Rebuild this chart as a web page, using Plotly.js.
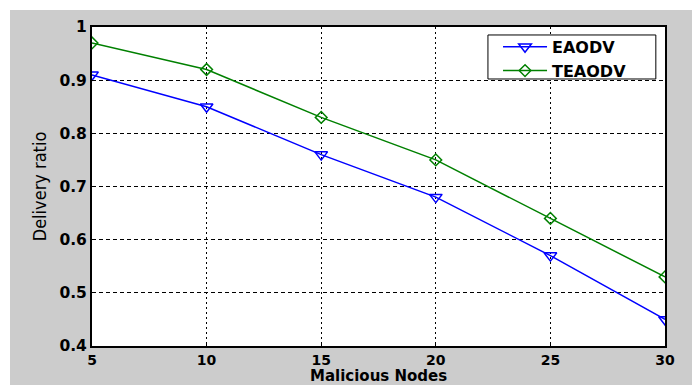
<!DOCTYPE html>
<html><head><meta charset="utf-8">
<script src="https://cdn.plot.ly/plotly-3.0.1.min.js"></script>
<style>html,body{margin:0;padding:0;background:#fff;}#plot{position:absolute;left:10px;top:10px;width:682px;height:375px;}</style>
</head><body><div id="plot"></div>
<script>
const maliciousNodes = [5, 10, 15, 20, 25, 30];
const eaodv = [0.91, 0.85, 0.76, 0.68, 0.57, 0.45];
const teaodv = [0.97, 0.92, 0.83, 0.75, 0.64, 0.53];
const xTicks = [5, 10, 15, 20, 25, 30];
const yTicks = [0.4, 0.5, 0.6, 0.7, 0.8, 0.9, 1];
const yTickText = ['0.4', '0.5', '0.6', '0.7', '0.8', '0.9', '1'];
const xTitle = 'Malicious Nodes';
const yTitle = 'Delivery ratio';

const yTickFont = {family: 'DejaVu Sans, Arial', size: 15.5, color: '#000', weight: 'bold'};
const xTickFont = {family: 'DejaVu Sans, Arial', size: 14, color: '#000', weight: 'bold'};
const legendFont = {family: 'DejaVu Sans, Arial', size: 16, color: '#000', weight: 'bold'};
const traces = [
  {x: maliciousNodes, y: eaodv, name: 'EAODV', mode: 'lines+markers',
   line: {color: '#0000ff', width: 1.5},
   marker: {symbol: 'triangle-down-open', size: 11, color: '#0000ff', line: {width: 1.5}}},
  {x: maliciousNodes, y: teaodv, name: 'TEAODV', mode: 'lines+markers',
   line: {color: '#008000', width: 1.5},
   marker: {symbol: 'diamond-open', size: 9, color: '#008000', line: {width: 1.5}}}
];
const layout = {
  width: 682, height: 375,
  paper_bgcolor: '#cccccc', plot_bgcolor: '#ffffff',
  margin: {l: 82, r: 27, t: 17, b: 39},
  showlegend: true,
  legend: {x: 0.7086, y: 0.991, xanchor: 'left', yanchor: 'top',
    bgcolor: 'rgba(0,0,0,0)', borderwidth: 0, font: legendFont, itemwidth: 44, tracegroupgap: 0},
  shapes: [{type: 'rect', xref: 'paper', yref: 'paper', x0: 0.691, x1: 0.984, y0: 0.837, y1: 0.975,
    fillcolor: '#ffffff', line: {color: '#000', width: 1}, layer: 'above'}],
  annotations: [{text: xTitle, xref: 'paper', yref: 'paper', x: 0.5, y: 0, xanchor: 'center', yanchor: 'top',
    yshift: -21, showarrow: false, borderpad: 0, borderwidth: 0,
    font: {family: 'DejaVu Sans, Arial', size: 15, color: '#000', weight: 'bold'}}],
  xaxis: {range: [5, 30], tickvals: xTicks, ticktext: xTicks.map(String),
    showline: true, mirror: true, linecolor: '#000', linewidth: 2,
    ticks: 'inside', ticklen: 4, tickcolor: '#000',
    showgrid: true, gridcolor: '#000', gridwidth: 1, griddash: '2px,3px',
    zeroline: false, tickfont: xTickFont},
  yaxis: {range: [0.4, 1], tickvals: yTicks, ticktext: yTickText,
    showline: true, mirror: true, linecolor: '#000', linewidth: 2,
    ticks: 'inside', ticklen: 4, tickcolor: '#000',
    showgrid: true, gridcolor: '#000', gridwidth: 1, griddash: '4px,3px',
    zeroline: false, tickfont: yTickFont, ticklabelstandoff: 0,
    title: {text: yTitle, font: {family: 'Liberation Sans Narrow, DejaVu Sans Condensed, Arial', size: 18, color: '#000'}, standoff: 8}}
};
Plotly.newPlot('plot', traces, layout, {displayModeBar: false, staticPlot: true});
</script></body></html>
